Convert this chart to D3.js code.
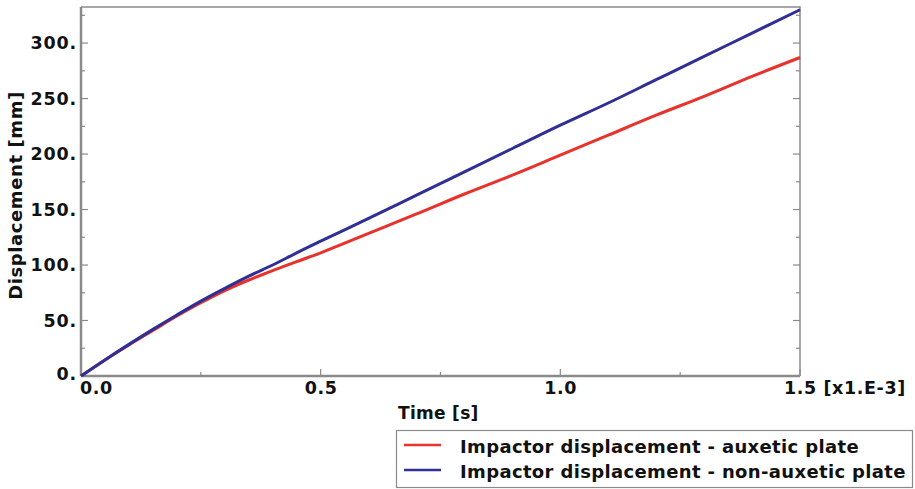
<!DOCTYPE html>
<html>
<head>
<meta charset="utf-8">
<script src="https://cdn.jsdelivr.net/npm/d3@7/dist/d3.min.js"></script>
<style>
  html, body { margin: 0; padding: 0; background: #fff; }
  svg { display: block; }
  text { font-family: "DejaVu Sans", Verdana, sans-serif; font-weight: bold; fill: #111; }
</style>
</head>
<body>
<svg id="chart" width="915" height="489"></svg>
<script>
// Time in ms (axis shown as x1.E-3 s)
const timeMs = [0, 0.05, 0.1, 0.15, 0.2, 0.25, 0.3, 0.35, 0.4, 0.45, 0.5,
                0.6, 0.7, 0.8, 0.9, 1.0, 1.1, 1.2, 1.3, 1.4, 1.5];
// Impactor displacement [mm]
const auxetic = [0, 14.5, 28, 41, 54, 66, 77, 86.5, 95, 103, 111,
                 128.5, 146, 164, 181, 199, 217, 235, 252, 270, 287];
const nonAuxetic = [0, 14.5, 28.5, 42, 55, 67.5, 79, 90, 100, 111, 121.5,
                    142, 163, 184, 205, 226, 246, 267, 288, 309, 330];
const seriesNames = ["Impactor displacement - auxetic plate",
                     "Impactor displacement - non-auxetic plate"];
const seriesColors = ["#e8322b", "#2f2f96"];
const yTicks = [0, 50, 100, 150, 200, 250, 300];
const yTickLabels = ["0.", "50.", "100.", "150.", "200.", "250.", "300."];
const xTicks = [0, 0.5, 1.0, 1.5];
const xTickLabels = ["0.0", "0.5", "1.0", "1.5 [x1.E-3]"];

const svg = d3.select("#chart");
const pLeft = 81, pRight = 800, pTop = 7, pBottom = 376;

const x = d3.scaleLinear().domain([0, 1.5]).range([pLeft, pRight]);
const y = d3.scaleLinear().domain([0, 332.5]).range([pBottom, pTop]);

const axisColor = "#8a8a8a";

// Frame: top and right edges
svg.append("path")
  .attr("d", `M${pLeft},${pTop}H${pRight}V${pBottom}`)
  .attr("fill", "none").attr("stroke", axisColor).attr("stroke-width", 1.5);

// Left axis with inward ticks
const yMinor = d3.range(0, 332, 25);
const gy = svg.append("g");
gy.append("line").attr("x1", pLeft).attr("x2", pLeft).attr("y1", pTop).attr("y2", pBottom)
  .attr("stroke", axisColor).attr("stroke-width", 2.5);
gy.selectAll("line.tk").data(yMinor).join("line").attr("class", "tk")
  .attr("x1", pLeft).attr("x2", d => pLeft + (d % 50 === 0 ? 7 : 4))
  .attr("y1", d => y(d)).attr("y2", d => y(d))
  .attr("stroke", axisColor).attr("stroke-width", 1.2);
// right edge ticks
svg.append("g").selectAll("line").data(yMinor).join("line")
  .attr("x1", pRight).attr("x2", d => pRight - (d % 50 === 0 ? 7 : 4))
  .attr("y1", d => y(d)).attr("y2", d => y(d))
  .attr("stroke", axisColor).attr("stroke-width", 1.2);
gy.selectAll("text").data(yTicks).join("text")
  .attr("x", pLeft - 4).attr("y", (d, i) => i === 0 ? y(d) - 2 : y(d))
  .attr("dy", "0.36em").attr("text-anchor", "end")
  .attr("font-size", 17.5).attr("letter-spacing", 0.8)
  .text((d, i) => yTickLabels[i]);

// Bottom axis with inward ticks
const xMinor = d3.range(0, 1.51, 0.25);
const gx = svg.append("g");
gx.append("line").attr("x1", pLeft).attr("x2", pRight).attr("y1", pBottom).attr("y2", pBottom)
  .attr("stroke", axisColor).attr("stroke-width", 2.5);
gx.selectAll("line.tk").data(xMinor).join("line").attr("class", "tk")
  .attr("x1", d => x(d)).attr("x2", d => x(d))
  .attr("y1", pBottom).attr("y2", (d, i) => pBottom - (i % 2 === 0 ? 7 : 4))
  .attr("stroke", axisColor).attr("stroke-width", 1.2);
gx.selectAll("text").data(xTicks).join("text")
  .attr("x", (d, i) => i === 0 ? x(d) - 1 : x(d) - 16)
  .attr("y", pBottom + 18)
  .attr("text-anchor", "start")
  .attr("font-size", 17.5).attr("letter-spacing", 0.6)
  .text((d, i) => xTickLabels[i]);

// Axis titles
svg.append("text").attr("x", 398).attr("y", 419).attr("text-anchor", "start")
  .attr("font-size", 17).attr("letter-spacing", 0.3).text("Time [s]");
svg.append("text").attr("transform", `translate(22,${(pTop + pBottom) / 2 + 4}) rotate(-90)`)
  .attr("text-anchor", "middle").attr("font-size", 18).attr("letter-spacing", 0.6)
  .text("Displacement [mm]");

// Curves
const line = d3.line().x(d => x(d[0])).y(d => y(d[1])).curve(d3.curveMonotoneX);
[auxetic, nonAuxetic].forEach((vals, i) => {
  svg.append("path")
    .datum(timeMs.map((t, k) => [t, vals[k]]))
    .attr("d", line)
    .attr("fill", "none")
    .attr("stroke", seriesColors[i])
    .attr("stroke-width", 3);
});

// Legend
const lg = svg.append("g");
lg.append("rect").attr("x", 396.5).attr("y", 430.5).attr("width", 516).attr("height", 57)
  .attr("fill", "#fff").attr("stroke", axisColor).attr("stroke-width", 1.2);
seriesNames.forEach((name, i) => {
  const yy = 445 + i * 25;
  lg.append("line").attr("x1", 404).attr("x2", 441).attr("y1", yy).attr("y2", yy)
    .attr("stroke", seriesColors[i]).attr("stroke-width", 2.5);
  lg.append("text").attr("x", 460).attr("y", yy + 2).attr("dy", "0.36em")
    .attr("font-size", 18).attr("letter-spacing", 0.35).text(name);
});
</script>
</body>
</html>
